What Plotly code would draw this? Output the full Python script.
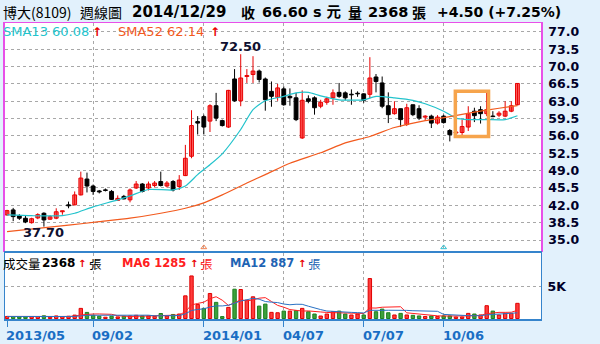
import plotly.graph_objects as go
import pandas as pd

W, H = 600, 344

# ---------------- data ----------------
weeks = list(range(84))
opens = [40.06, 41.07, 39.86, 39.39, 38.5, 39.45, 40.4, 39.2, 39.4, 40.7,
         42.1, 42.1, 44.1, 47.3, 45.9, 44.9, 45.1, 44.8, 43.0, 43.8,
         43.1, 45.5, 46.3, 45.5, 46.0, 46.8, 45.9, 46.8, 45.8, 48.0,
         51.9, 58.9, 59.9, 59.0, 62.1, 59.1, 57.8, 67.5, 63.1, 68.0,
         68.4, 69.1, 67.5, 65.0, 63.8, 65.5, 64.0, 63.7, 55.6, 63.5,
         63.7, 62.0, 62.8, 63.7, 64.8, 64.7, 64.4, 64.6, 64.5, 64.4,
         67.9, 66.7, 62.1, 60.5, 61.5, 58.3, 62.3, 61.5, 59.8, 60.0,
         58.6, 60.0, 57.1, 56.6, 56.7, 57.8, 61.0, 61.3, 60.5, 60.0,
         60.2, 60.0, 61.0, 62.3]
highs = [41.1, 41.48, 40.2, 39.9, 39.5, 40.4, 40.6, 40.0, 41.4, 40.9,
         42.75, 44.8, 48.8, 48.6, 46.2, 45.1, 45.4, 45.1, 44.0, 44.1,
         45.4, 46.9, 46.5, 46.8, 46.9, 48.8, 46.9, 47.1, 48.1, 54.2,
         61.2, 60.0, 60.3, 62.4, 64.7, 59.3, 65.3, 69.5, 72.5, 69.5,
         72.1, 69.4, 67.8, 67.0, 66.5, 66.0, 65.6, 64.7, 65.2, 64.2,
         64.0, 63.3, 63.9, 65.4, 66.7, 65.0, 65.4, 65.0, 64.6, 71.9,
         68.5, 68.0, 64.8, 63.0, 61.5, 62.5, 62.3, 62.2, 60.2, 60.3,
         60.2, 60.3, 57.4, 57.1, 59.3, 62.0, 61.7, 62.0, 65.0, 61.0,
         61.0, 63.0, 63.0, 66.6]
lows = [39.9, 38.8, 39.05, 38.4, 38.3, 39.2, 37.7, 39.1, 39.2, 40.1,
        41.4, 42.0, 44.0, 44.6, 44.1, 44.4, 44.8, 43.1, 42.9, 43.2,
        42.6, 45.3, 44.6, 45.0, 45.6, 45.8, 45.6, 44.8, 45.1, 47.9,
        51.5, 56.3, 56.3, 56.8, 59.0, 57.9, 57.6, 62.9, 62.0, 66.7,
        66.7, 66.8, 61.1, 61.9, 63.1, 62.1, 62.1, 59.0, 55.4, 62.6,
        60.3, 61.6, 62.3, 62.3, 63.7, 63.2, 62.3, 63.9, 62.7, 63.6,
        64.8, 61.6, 58.6, 60.3, 57.8, 58.0, 60.0, 59.2, 59.2, 57.6,
        58.3, 58.5, 54.9, 56.4, 56.2, 57.0, 58.8, 58.5, 60.0, 59.8,
        59.8, 59.8, 60.8, 62.2]
closes = [40.93, 39.72, 39.39, 38.64, 39.3, 40.12, 39.05, 39.7, 40.7, 40.9,
          41.9, 44.1, 47.5, 45.9, 44.8, 44.7, 45.0, 43.2, 43.4, 43.3,
          45.1, 46.3, 44.8, 46.3, 46.5, 46.0, 46.5, 45.1, 47.1, 51.5,
          58.1, 58.6, 57.8, 62.1, 59.6, 58.1, 65.2, 63.1, 67.7, 68.2,
          69.1, 67.4, 63.3, 64.0, 65.7, 62.3, 63.7, 59.3, 63.2, 63.0,
          61.7, 62.8, 63.5, 64.7, 64.0, 63.7, 64.3, 64.5, 63.2, 67.7,
          67.0, 62.0, 60.3, 61.5, 59.3, 61.7, 60.3, 59.6, 60.0, 58.6,
          59.8, 58.7, 56.25, 56.8, 57.9, 60.5, 60.1, 60.5, 61.3, 59.9,
          60.6, 61.0, 62.1, 66.6]
volumes = [320, 300, 250, 250, 300, 300, 420, 200, 400, 300,
           350, 530, 1580, 950, 500, 350, 200, 350, 250, 350,
           400, 500, 400, 400, 350, 780, 400, 630, 700, 3540,
           6650, 2200, 1580, 3910, 2520, 300, 1740, 4580, 4530, 2870,
           3390, 1940, 2250, 960, 900, 1160, 1160, 1240, 1580, 1060,
           700, 390, 700, 1060, 1160, 700, 550, 700, 550, 6240,
           1060, 1470, 900, 550, 800, 550, 500, 400, 320, 400,
           320, 400, 400, 240, 240, 800, 700, 550, 2000, 1160,
           550, 800, 800, 2368]

sma13_idx = [0, 4, 9, 11, 14, 18, 20, 23, 27, 29, 31, 33, 35, 38, 40, 42, 45, 47,
             49, 51, 54, 58, 60, 63, 66, 68, 71, 73, 75, 78, 81, 83]
sma13_val = [40.06, 39.9, 39.9, 40.4, 41.7, 43.1, 43.9, 45.2, 45.1, 45.9, 48.2, 50.2,
             52.4, 57.3, 61.3, 63.1, 64.0, 64.7, 64.8, 64.1, 63.3, 63.3, 64.0, 63.7,
             63.2, 62.5, 61.0, 59.6, 59.3, 59.3, 59.3, 60.08]
sma52_idx = [0, 10, 15, 20, 25, 29, 32, 35, 39, 42, 46, 51, 55, 59, 63, 68, 72, 76, 80, 83]
sma52_val = [36.7, 38.0, 38.7, 39.4, 40.4, 41.4, 42.5, 44.1, 46.5, 48.2, 50.5, 52.6,
             54.6, 55.9, 57.7, 59.1, 59.9, 60.8, 61.6, 62.14]

tick_idx = [0, 14, 32, 45, 58, 71]
tick_text = ["2013/05", "09/02", "2014/01", "04/07", "07/07", "10/06"]
price_ticks = [35.0, 38.5, 42.0, 45.5, 49.0, 52.5, 56.0, 59.5, 63.0, 66.5, 70.0, 73.5, 77.0]
signal_idx = [32, 71]
signal_color = ["#f08050", "#30c0d0"]
box_weeks = [73, 78]
box_prices = [55.9, 65.0]
high_idx, low_idx = 38, 6

# ---------------- styles ----------------
BG = "#e2f1fc"
RED = "#e80000"
RED_FILL = "#ff6464"
GRID = "#a8a8a8"
MAG = "#e850e8"
BLUE_AX = "#3584cc"
SMA13_C = "#22c3cc"
SMA52_C = "#f25a1e"
LAT = "DejaVu Sans"
CJK = "Noto Sans CJK TC"


def px(x):
    return x / W


def py(y):
    return 1 - y / H


fig = go.Figure()

# wicks
for is_up, col in [(True, RED), (False, "#000000")]:
    xs, ys = [], []
    for i in weeks:
        if (closes[i] >= opens[i]) == is_up:
            xs += [i, i, None]
            ys += [lows[i], highs[i], None]
    fig.add_trace(go.Scatter(x=xs, y=ys, mode="lines", line=dict(color=col, width=1),
                             hoverinfo="skip", showlegend=False, xaxis="x", yaxis="y"))

# bodies
for is_up, fill, line in [(True, RED_FILL, RED), (False, "#000000", "#000000")]:
    xs = [i for i in weeks if (closes[i] >= opens[i]) == is_up]
    base = [min(opens[i], closes[i]) for i in xs]
    hgt = [max(abs(closes[i] - opens[i]), 0.12) for i in xs]
    fig.add_trace(go.Bar(x=xs, y=hgt, base=base, width=0.62,
                         marker=dict(color=fill, line=dict(color=line, width=1)),
                         hoverinfo="skip", showlegend=False, xaxis="x", yaxis="y"))

# moving averages
fig.add_trace(go.Scatter(x=sma13_idx, y=sma13_val, mode="lines",
                         line=dict(color=SMA13_C, width=1.2, shape="spline", smoothing=0.6),
                         hoverinfo="skip", showlegend=False, xaxis="x", yaxis="y"))
fig.add_trace(go.Scatter(x=sma52_idx, y=sma52_val, mode="lines",
                         line=dict(color=SMA52_C, width=1.2, shape="spline", smoothing=0.6),
                         hoverinfo="skip", showlegend=False, xaxis="x", yaxis="y"))

# signal marks
fig.add_trace(go.Scatter(x=signal_idx, y=[33.5] * len(signal_idx), mode="markers",
                         marker=dict(symbol="triangle-up-open", size=5, color=signal_color,
                                     line=dict(width=1, color=signal_color)),
                         hoverinfo="skip", showlegend=False, xaxis="x", yaxis="y"))

# volume
vol_up = [True] + [closes[i] >= closes[i - 1] for i in weeks[1:]]
for flag, fill, line in [(True, "#ff3c3c", "#e00000"), (False, "#3ca03c", "#1f801f")]:
    xs = [i for i in weeks if vol_up[i] == flag]
    fig.add_trace(go.Bar(x=xs, y=[volumes[i] for i in xs], width=0.55,
                         marker=dict(color=fill, line=dict(color=line, width=1)),
                         hoverinfo="skip", showlegend=False, xaxis="x2", yaxis="y2"))

vs = pd.Series(volumes, dtype=float)
ma6 = vs.rolling(6, min_periods=1).mean()
ma12 = vs.rolling(12, min_periods=1).mean()
fig.add_trace(go.Scatter(x=weeks, y=ma6, mode="lines", line=dict(color="#ff2020", width=1),
                         hoverinfo="skip", showlegend=False, xaxis="x2", yaxis="y2"))
fig.add_trace(go.Scatter(x=weeks, y=ma12, mode="lines", line=dict(color="#2a72c4", width=1),
                         hoverinfo="skip", showlegend=False, xaxis="x2", yaxis="y2"))

# highlight box
fig.add_shape(type="rect", xref="x", yref="y",
              x0=box_weeks[0] - 0.1, x1=box_weeks[1] + 0.3,
              y0=box_prices[0], y1=box_prices[1],
              line=dict(color="#f6a44c", width=3.5), fillcolor="rgba(0,0,0,0)")

xr = [-0.33, 86.83]
fig.update_layout(
    width=W, height=H, margin=dict(l=0, r=0, t=0, b=0),
    paper_bgcolor=BG, plot_bgcolor="#ffffff", barmode="overlay", showlegend=False,
    xaxis=dict(domain=[px(5), px(541)], range=xr, anchor="y",
               tickmode="array", tickvals=tick_idx[1:], showticklabels=False, ticks="",
               showgrid=True, gridcolor=GRID, griddash="dot", gridwidth=1, zeroline=False,
               showline=True, linecolor=MAG, linewidth=1, mirror=True),
    yaxis=dict(domain=[py(251), py(23)], range=[32.78, 78.80], anchor="x", side="right",
               tickmode="array", tickvals=price_ticks,
               ticktext=[f"{v:.1f}" for v in price_ticks],
               tickfont=dict(family=LAT, size=12.5, color="#000028", weight="bold"),
               ticks="", ticklabelstandoff=3,
               showgrid=True, gridcolor=GRID, griddash="dot", gridwidth=1, zeroline=False,
               showline=True, linecolor=MAG, linewidth=1.5, mirror=True),
    xaxis2=dict(domain=[px(5), px(541)], range=xr, anchor="y2",
                tickmode="array", tickvals=tick_idx, showticklabels=False,
                ticks="outside", ticklen=6, tickcolor=BLUE_AX, tickwidth=1,
                showgrid=False, zeroline=False,
                minor=dict(tickmode="array", tickvals=tick_idx[1:], showgrid=True,
                           gridcolor=GRID, griddash="dot", gridwidth=1, ticks=""),
                showline=True, linecolor=BLUE_AX, linewidth=1.5, mirror=True),
    yaxis2=dict(domain=[py(319), py(253)], range=[-78, 10234], anchor="x2", side="right",
                tickmode="array", tickvals=[5000], ticktext=["5K"],
                tickfont=dict(family=LAT, size=12.5, color="#000028", weight="bold"),
                ticks="", ticklabelstandoff=3,
                showgrid=True, gridcolor=GRID, griddash="dot", gridwidth=1, zeroline=False,
                showline=True, linecolor=BLUE_AX, linewidth=1, mirror=True),
)

ann = []


def text(x, y, s, size=13, color="#000000", bold=False, family=LAT):
    ann.append(dict(xref="paper", yref="paper", x=px(x), y=py(y), text=s,
                    xanchor="left", yanchor="middle", showarrow=False, borderpad=0,
                    font=dict(family=family, size=size, color=color,
                              weight="bold" if bold else "normal")))


MIX = LAT + ", " + CJK
# header
text(2, 12, "博大(8109)", 14, family=CJK)
text(79, 12, "週線圖", 14, family=CJK)
text(131, 12, "2014/12/29", 15, bold=True)
text(240, 12, "收", 14, bold=True, family=CJK)
text(261, 12, "66.60 s 元", 14.5, bold=True, family=MIX)
text(347, 12, "量", 14, bold=True, family=CJK)
text(367, 12, "2368", 14.5, bold=True)
text(411, 12, "張", 14, bold=True, family=CJK)
text(436, 12, "+4.50 (+7.25%)", 14, bold=True)

# price legend
text(2, 32, "SMA13 60.08", 13, SMA13_C)
text(91, 32, "↑", 12, RED, bold=True)
text(117, 32, "SMA52 62.14", 13, SMA52_C)
text(209, 32, "↑", 12, RED, bold=True)

# volume legend
text(2, 263, "成交量", 12.5, family=CJK)
text(41, 263, "2368", 12, bold=True)
text(77, 263, "↑", 10, RED, bold=True)
text(88, 263, "張", 12.5, family=CJK)
text(121, 263, "MA6 1285", 11.5, "#ff2020", bold=True)
text(189, 263, "↑", 10, RED, bold=True)
text(199, 263, "張", 12.5, "#ff2020", family=CJK)
text(229, 263, "MA12 887", 11.5, "#1e64b4", bold=True)
text(297, 263, "↑", 10, RED, bold=True)
text(307, 263, "張", 12.5, "#1e64b4", family=CJK)

# extreme labels
ann.append(dict(xref="x", yref="y", x=high_idx, y=highs[high_idx], text=f"{highs[high_idx]:.2f}",
                showarrow=False, xanchor="center", yanchor="middle", yshift=8,
                font=dict(family=LAT, size=13, color="#101030", weight="bold")))
ann.append(dict(xref="x", yref="y", x=low_idx, y=lows[low_idx], text=f"{lows[low_idx]:.2f}",
                showarrow=False, xanchor="center", yanchor="middle", yshift=-6,
                font=dict(family=LAT, size=13, color="#101030", weight="bold")))

# date labels
for i, t in zip(tick_idx, tick_text):
    ann.append(dict(xref="x2", yref="paper", x=i, y=py(335), text=t, showarrow=False,
                    xanchor="left", yanchor="middle", xshift=-3,
                    font=dict(family=LAT, size=13, color="#1a6ec4", weight="bold")))

fig.update_layout(annotations=ann)
fig.write_html("out.html")
